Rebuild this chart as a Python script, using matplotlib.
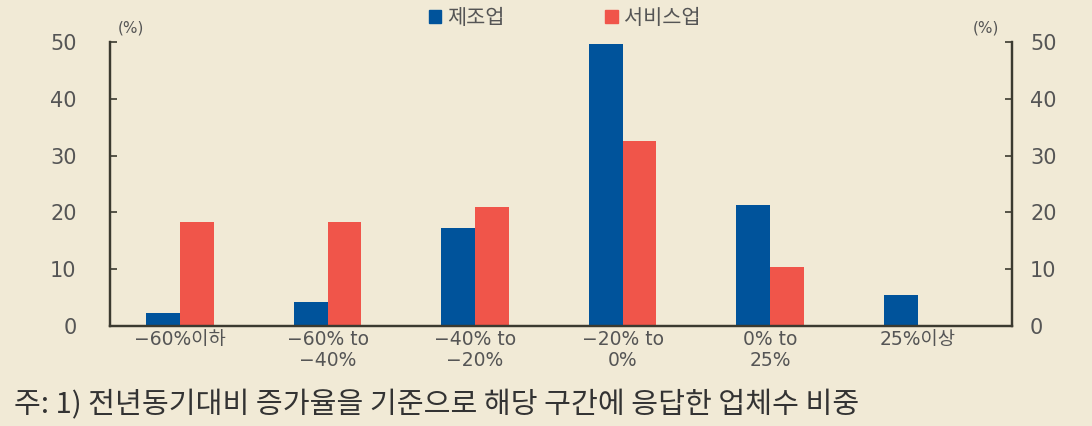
import numpy as np
import matplotlib.pyplot as plt
from matplotlib.patches import Patch

plt.rcParams['font.family'] = ['DejaVu Sans', 'Noto Sans CJK KR']

# 전년동기대비 증가율 구간별 응답 업체수 비중
categories = ['−60%이하', '−60% to\n−40%', '−40% to\n−20%', '−20% to\n0%', '0% to\n25%', '25%이상']
manufacturing = [2.3, 4.2, 17.3, 49.6, 21.3, 5.5]
services = [18.3, 18.3, 21.0, 32.6, 10.4, 0.0]
yticks = [0, 10, 20, 30, 40, 50]

bg = '#f1ead6'
blue = '#00539b'
red = '#f0554a'
axis_col = '#3b3a30'
text_col = '#555555'

fig = plt.figure(figsize=(10.92, 4.26), dpi=100, facecolor=bg)
ax = fig.add_axes([0.1007, 0.2347, 0.826, 0.6667], facecolor=bg)

x = np.arange(len(categories))
w = 0.23
ax.bar(x - w / 2, manufacturing, w, color=blue)
ax.bar(x + w / 2, services, w, color=red)

ax.set_xlim(-0.475, 5.64)
ax.set_ylim(0, 50)
ax.set_yticks(yticks)
ax.set_xticks(x)
ax.set_xticklabels(categories, fontsize=13.5, color=text_col, linespacing=1.1)
ax.tick_params(axis='x', length=0, pad=3)
ax.tick_params(axis='y', direction='in', length=5, width=1.2, color=axis_col,
               labelsize=15, labelcolor=text_col, pad=24)

ax2 = ax.twinx()
ax2.set_ylim(0, 50)
ax2.set_yticks(yticks)
ax2.tick_params(axis='y', direction='in', length=5, width=1.2, color=axis_col,
                labelsize=15, labelcolor=text_col, pad=13)

for a in (ax, ax2):
    a.spines['top'].set_visible(False)
    for s in ('left', 'right', 'bottom'):
        a.spines[s].set_color(axis_col)
        a.spines[s].set_linewidth(1.6)

fig.text(0.12, 0.935, '(%)', fontsize=11, color=text_col, ha='center', va='center')
fig.text(0.903, 0.935, '(%)', fontsize=11, color=text_col, ha='center', va='center')

handles = [Patch(color=blue, label='제조업'), Patch(color=red, label='서비스업')]
fig.legend(handles=handles, loc='center', bbox_to_anchor=(0.517, 0.958), ncol=2,
           frameon=False, fontsize=15, handlelength=0.6, handleheight=0.6,
           handletextpad=0.3, columnspacing=4.8, labelcolor=text_col)

fig.text(0.013, 0.048, '주: 1) 전년동기대비 증가율을 기준으로 해당 구간에 응답한 업체수 비중',
         fontsize=21, color='#333333', ha='left', va='center',
         family=['Noto Sans CJK KR', 'DejaVu Sans'])

fig.savefig('out.png', dpi=100, facecolor=bg)
